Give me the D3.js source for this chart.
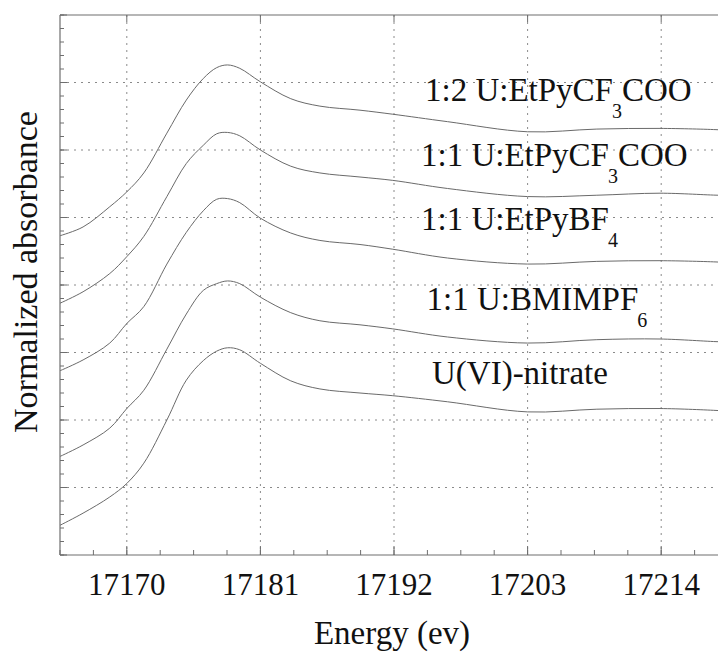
<!DOCTYPE html>
<html>
<head>
<meta charset="utf-8">
<script src="https://cdnjs.cloudflare.com/ajax/libs/d3/7.8.5/d3.min.js"></script>
</head>
<body style="margin:0">
<div id="chart"></div>
<script>
// energy grid (eV) shared by all spectra
var energy = [17164.5, 17166.4, 17168.6, 17170.0, 17171.4, 17173.3, 17174.9, 17176.3, 17177.4,
              17178.3, 17179.3, 17181.0, 17183.5, 17185.9, 17189.2, 17191.9, 17196.4, 17203.0,
              17208.7, 17213.9, 17218.7, 17219.5];

// normalized absorbance, offset per sample (top to bottom)
var uEtPyCF3COO_12 = [4.73, 4.86, 5.16, 5.38, 5.66, 6.25, 6.74, 7.06, 7.22, 7.26, 7.21, 7.01,
                      6.76, 6.65, 6.59, 6.53, 6.42, 6.27, 6.31, 6.32, 6.30, 6.29];
var uEtPyCF3COO_11 = [3.73, 3.90, 4.17, 4.42, 4.72, 5.31, 5.80, 6.07, 6.24, 6.26, 6.21, 6.00,
                      5.76, 5.66, 5.60, 5.55, 5.43, 5.31, 5.33, 5.36, 5.33, 5.33];
var uEtPyBF4_11 = [2.73, 2.89, 3.14, 3.43, 3.68, 4.31, 4.78, 5.10, 5.27, 5.28, 5.22, 4.99,
                   4.77, 4.66, 4.60, 4.53, 4.40, 4.31, 4.35, 4.36, 4.34, 4.33];
var uBMIMPF6_11 = [1.46, 1.63, 1.88, 2.17, 2.44, 3.05, 3.57, 3.92, 4.02, 4.06, 4.02, 3.82,
                   3.59, 3.47, 3.41, 3.35, 3.23, 3.14, 3.19, 3.20, 3.16, 3.16];
var uNitrate = [0.44, 0.62, 0.86, 1.06, 1.36, 2.00, 2.59, 2.88, 3.02, 3.07, 3.04, 2.84,
                2.58, 2.46, 2.40, 2.36, 2.27, 2.12, 2.16, 2.17, 2.14, 2.13];

var seriesValues = [uEtPyCF3COO_12, uEtPyCF3COO_11, uEtPyBF4_11, uBMIMPF6_11, uNitrate];

// labels: [main text, subscript, trailing text]
var labelParts = [
  ["1:2 U:EtPyCF", "3", "COO"],
  ["1:1 U:EtPyCF", "3", "COO"],
  ["1:1 U:EtPyBF", "4", ""],
  ["1:1 U:BMIMPF", "6", ""],
  ["U(VI)-nitrate", "", ""]
];

var xMajorTicks = [17170, 17181, 17192, 17203, 17214];
var xMinorStep = 2.75;
var yMajorTicks = [0, 1, 2, 3, 4, 5, 6, 7, 8];
var yMinorStep = 0.2;

var width = 718, height = 653,
    margin = {top: 15, right: -10, bottom: 98, left: 60};

var svg = d3.select("#chart").append("svg")
    .attr("width", width)
    .attr("height", height);

var x = d3.scaleLinear()
    .domain([17164.5, 17219.5])
    .range([margin.left, width - margin.right]);
var y = d3.scaleLinear()
    .domain([0, 8])
    .range([height - margin.bottom, margin.top]);

var xMinor = d3.range(17164.5, 17219.6, xMinorStep);
var yMinor = d3.range(0, 8.01, yMinorStep);

// dotted grid
var grid = svg.append("g")
    .attr("stroke", "#8a8a8a")
    .attr("stroke-width", 1)
    .attr("stroke-dasharray", "2,5");
grid.selectAll(".vgrid").data(xMajorTicks).enter().append("line")
    .attr("x1", function(d){ return x(d); })
    .attr("x2", function(d){ return x(d); })
    .attr("y1", y(8)).attr("y2", y(0));
grid.selectAll(".hgrid").data(yMajorTicks.slice(1, -1)).enter().append("line")
    .attr("x1", x.range()[0]).attr("x2", x.range()[1])
    .attr("y1", function(d){ return y(d); })
    .attr("y2", function(d){ return y(d); });

// frame lines
var frame = svg.append("g").attr("stroke", "#6e6e6e").attr("stroke-width", 1.2);
frame.append("line").attr("x1", x.range()[0]).attr("x2", x.range()[1]).attr("y1", y(0)).attr("y2", y(0));
frame.append("line").attr("x1", x.range()[0]).attr("x2", x.range()[1]).attr("y1", y(8)).attr("y2", y(8));
frame.append("line").attr("x1", x.range()[0]).attr("x2", x.range()[0]).attr("y1", y(8)).attr("y2", y(0));

// inward ticks
var ticks = svg.append("g").attr("stroke", "#6e6e6e").attr("stroke-width", 1);
ticks.selectAll(".xmin").data(xMinor).enter().append("line")
    .attr("x1", function(d){ return x(d); }).attr("x2", function(d){ return x(d); })
    .attr("y1", y(0)).attr("y2", y(0) - 5);
ticks.selectAll(".xmaj").data(xMajorTicks).enter().append("line")
    .attr("x1", function(d){ return x(d); }).attr("x2", function(d){ return x(d); })
    .attr("y1", y(0)).attr("y2", y(0) - 9);
ticks.selectAll(".xmajt").data(xMajorTicks).enter().append("line")
    .attr("x1", function(d){ return x(d); }).attr("x2", function(d){ return x(d); })
    .attr("y1", y(8)).attr("y2", y(8) + 7);
ticks.selectAll(".ymin").data(yMinor).enter().append("line")
    .attr("x1", x(17164.5)).attr("x2", x(17164.5) + 4)
    .attr("y1", function(d){ return y(d); }).attr("y2", function(d){ return y(d); });
ticks.selectAll(".ymaj").data(yMajorTicks).enter().append("line")
    .attr("x1", x(17164.5)).attr("x2", x(17164.5) + 7)
    .attr("y1", function(d){ return y(d); }).attr("y2", function(d){ return y(d); });

// tick labels
svg.selectAll(".xlab").data(xMajorTicks).enter().append("text")
    .attr("x", function(d){ return x(d); })
    .attr("y", y(0) + 40)
    .attr("text-anchor", "middle")
    .style("font-family", "'Liberation Serif'")
    .style("font-size", "31px")
    .attr("fill", "#111")
    .text(function(d){ return d; });

// spectra
var line = d3.line()
    .x(function(d, i){ return x(energy[i]); })
    .y(function(d){ return y(d); })
    .curve(d3.curveCatmullRom.alpha(0.5));

svg.append("g").selectAll("path").data(seriesValues).enter().append("path")
    .attr("d", line)
    .attr("fill", "none")
    .attr("stroke", "#6a6a6a")
    .attr("stroke-width", 1);

// sample labels
var labelX = [425, 421, 421, 426.5, 432];
var labelY = [101, 166, 230, 310, 384];
labelParts.forEach(function(p, i) {
  var t = svg.append("text")
      .attr("x", labelX[i]).attr("y", labelY[i])
      .style("font-family", "'Liberation Serif'")
      .style("font-size", "33px")
      .attr("fill", "#111");
  t.append("tspan").text(p[0]);
  if (p[1]) {
    t.append("tspan").attr("dx", -1).attr("dy", 17).style("font-size", "20px").text(p[1]);
  }
  if (p[2]) {
    t.append("tspan").attr("dx", 0).attr("dy", -17).text(p[2]);
  }
});

// axis titles
svg.append("text")
    .attr("x", 392)
    .attr("y", 644)
    .attr("text-anchor", "middle")
    .style("font-family", "'Liberation Serif'")
    .style("font-size", "33px")
    .attr("fill", "#111")
    .text("Energy (ev)");

svg.append("text")
    .attr("transform", "translate(37,272) rotate(-90)")
    .attr("text-anchor", "middle")
    .style("font-family", "'Liberation Serif'")
    .style("font-size", "34px")
    .attr("fill", "#111")
    .text("Normalized absorbance");
</script>
</body>
</html>
